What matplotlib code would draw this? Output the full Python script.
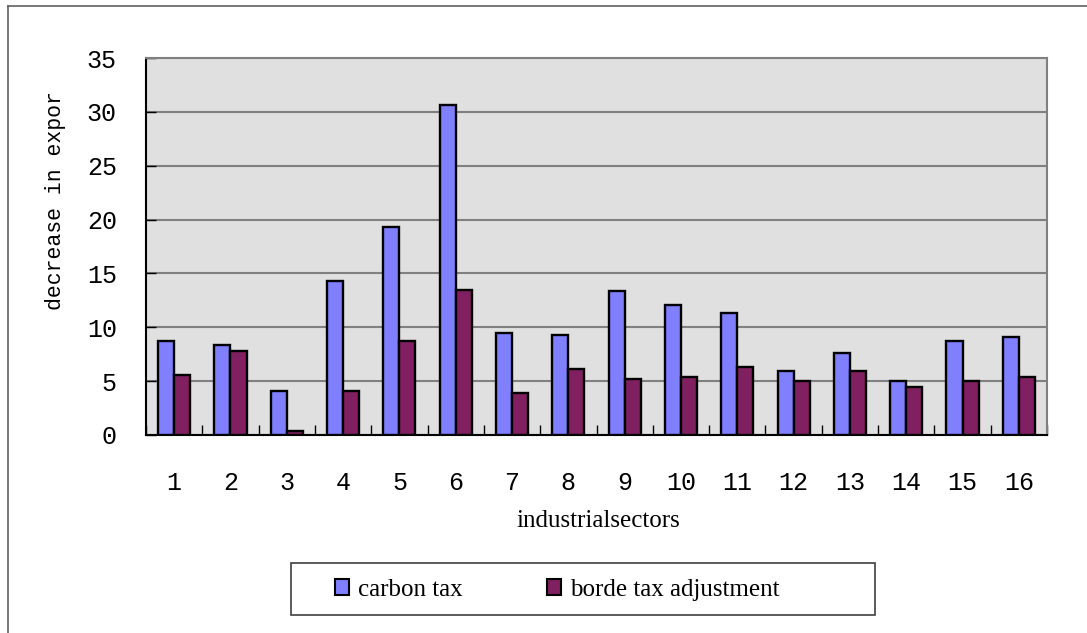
import numpy as np
import matplotlib
matplotlib.use("Agg")
import matplotlib.pyplot as plt
from matplotlib.patches import Rectangle, Patch
from matplotlib.lines import Line2D

sectors = [str(i) for i in range(1, 17)]
carbon_tax = [8.7, 8.4, 4.1, 14.3, 19.3, 30.6, 9.5, 9.3, 13.4, 12.1, 11.3, 5.9, 7.6, 5.0, 8.7, 9.1]
border_adj = [5.6, 7.8, 0.4, 4.1, 8.7, 13.5, 3.9, 6.1, 5.2, 5.4, 6.3, 5.0, 5.9, 4.5, 5.0, 5.4]
yticks = [0, 5, 10, 15, 20, 25, 30, 35]

W, H = 1087, 633
fig = plt.figure(figsize=(W / 100, H / 100), dpi=100)

def px(x0, y0, x1, y1):
    # pixel box (top-left origin) -> figure fraction rect
    return [x0 / W, 1 - y1 / H, (x1 - x0) / W, (y1 - y0) / H]

ax = fig.add_axes(px(146, 58, 1047, 435))
ax.set_facecolor("#E0E0E0")

x = np.arange(1, len(sectors) + 1)
bw = 0.285
ax.bar(x - bw / 2, carbon_tax, bw, color="#8080FF", edgecolor="black", linewidth=1.7, zorder=3)
ax.bar(x + bw / 2, border_adj, bw, color="#802060", edgecolor="black", linewidth=1.7, zorder=3)

ax.set_xlim(0.5, 16.5)
ax.set_ylim(0, 35)
ax.set_yticks(yticks)
ax.yaxis.grid(True, color="#808080", linewidth=1.5, zorder=0)
ax.set_axisbelow(True)

ax.set_xticks(np.arange(0.5, 17, 1))
ax.set_xticklabels([])
ax.set_xticks(x, minor=True)
ax.set_xticklabels(sectors, minor=True)
ax.tick_params(axis="x", which="major", direction="in", length=7, width=1, color="black")
ax.tick_params(axis="x", which="minor", length=0, pad=26)
ax.tick_params(axis="y", direction="in", length=7, width=1, color="black", pad=21)

for lab in ax.get_xticklabels(minor=True) + ax.get_yticklabels():
    lab.set_fontfamily("Liberation Mono")
    lab.set_fontsize(18)

ax.spines["left"].set_color("black")
ax.spines["bottom"].set_color("black")
ax.spines["left"].set_linewidth(1.5)
ax.spines["bottom"].set_linewidth(1.5)
ax.spines["top"].set_color("#808080")
ax.spines["right"].set_color("#808080")
ax.spines["top"].set_linewidth(1.5)
ax.spines["right"].set_linewidth(1.5)

fig.text(55 / W, 1 - 201 / H, "decrease in expor", rotation=90, ha="center", va="center",
         family="Liberation Mono", fontsize=15.5)
fig.text(598 / W, 1 - 521 / H, "industrialsectors", ha="center", va="center",
         family="Liberation Serif", fontsize=18)

# legend box
fig.patches.append(Rectangle((291 / W, 1 - 615 / H), 584 / W, 52 / H, transform=fig.transFigure,
                             facecolor="white", edgecolor="#404040", linewidth=1.2))
handles = [Patch(facecolor="#8080FF", edgecolor="black", linewidth=1.5),
           Patch(facecolor="#802060", edgecolor="black", linewidth=1.5)]
fig.legend(handles, ["carbon tax", "borde tax adjustment"], ncol=2, frameon=False,
           loc="center left", bbox_to_anchor=(335 / W, 1 - 590 / H), borderpad=0, borderaxespad=0,
           prop={"family": "Liberation Serif", "size": 18},
           handlelength=0.55, handleheight=0.6, handletextpad=0.35, columnspacing=3.4)

# outer chart frame
fig.lines.append(Line2D([8 / W, 8 / W], [0, 1 - 6 / H], transform=fig.transFigure, color="#606060", lw=1.2))
fig.lines.append(Line2D([8 / W, 1], [1 - 6 / H, 1 - 6 / H], transform=fig.transFigure, color="#606060", lw=1.2))

fig.savefig("out.png", dpi=100)
